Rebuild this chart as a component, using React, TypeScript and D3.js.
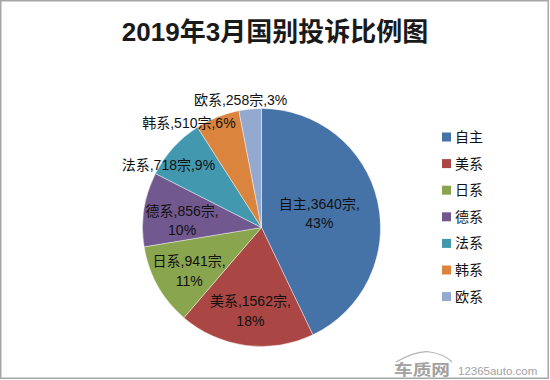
import React from "react";
import * as d3 from "d3";

const categories = ["自主", "美系", "日系", "德系", "法系", "韩系", "欧系"];
const counts = [3640, 1562, 941, 856, 718, 510, 258];
const percents = [43, 18, 11, 10, 9, 6, 3];
const colors = ["#4572A7", "#AA4643", "#89A54E", "#71588F", "#4198AF", "#DB843D", "#93A9CF"];
const twoLine = [true, true, true, true, false, false, false];
const labelRadius = [0.5, 0.71, 0.71, 0.67, 0.94, 1.07, 1.09];
const labelNudgeDeg = [-0.8, 0, -1.8, -3.8, -8.5, -13, -3.8];
const title = "2019年3月国别投诉比例图";

const W = 550, H = 380;
const cx = 261.5, cy = 227.5, R = 119;
const FONT = "'Liberation Sans', 'Noto Sans CJK SC', sans-serif";

export default function App() {
  const data = categories.map((c, i) => ({ name: c, value: counts[i], i }));
  const pie = d3.pie<any>().value((d) => d.value).sort(null);
  const arcs = pie(data);
  const arc = d3.arc<any>().innerRadius(0).outerRadius(R);

  const legendY = d3.scaleLinear().domain([0, 6]).range([137, 296.6]);

  // watermark car outline
  const car = d3.path();
  car.moveTo(396, 362);
  car.quadraticCurveTo(418, 350, 430, 352);
  car.quadraticCurveTo(444, 354, 452, 362);

  return (
    <svg width={W} height={H} style={{ position: "absolute", left: 0, top: 0 }} fontFamily={FONT}>
      <rect x={0} y={0} width={W} height={H} fill="#fff" />
      <rect x={0.75} y={0.75} width={547.5} height={377.5} fill="none" stroke="#a6a6a6" strokeWidth={1.5} />
      <text x={275} y={41} textAnchor="middle" fontSize={26} fontWeight="bold" fill="#1a1a1a">
        {title}
      </text>
      <g transform={`translate(${cx},${cy})`}>
        {arcs.map((a, i) => (
          <path key={i} d={arc(a) || ""} fill={colors[i]} stroke="#ffffff" strokeOpacity={0.6} strokeWidth={0.7} />
        ))}
        {arcs.map((a, i) => {
          const mid = (a.startAngle + a.endAngle) / 2 + (labelNudgeDeg[i] * Math.PI) / 180;
          const r = labelRadius[i] * R;
          const x = r * Math.sin(mid);
          const y = -r * Math.cos(mid);
          const line1 = `${categories[i]},${counts[i]}宗,`;
          const pct = `${percents[i]}%`;
          return twoLine[i] ? (
            <text key={i} x={x} y={y} textAnchor="middle" fontSize={14} fill="#111">
              <tspan x={x} dy={-10} dominantBaseline="central">{line1}</tspan>
              <tspan x={x} dy={19.5} dominantBaseline="central">{pct}</tspan>
            </text>
          ) : (
            <text key={i} x={x} y={y} textAnchor="middle" dominantBaseline="central" fontSize={14} fill="#111">
              {line1 + pct}
            </text>
          );
        })}
      </g>
      <g>
        {categories.map((c, i) => (
          <g key={i} transform={`translate(442,${legendY(i)})`}>
            <rect x={0} y={-4.5} width={9} height={9} fill={colors[i]} />
            <text x={13} y={0} dominantBaseline="central" fontSize={14} fill="#111">{c}</text>
          </g>
        ))}
      </g>
      <g opacity={0.8}>
        <path d={car.toString()} fill="none" stroke="#a0a0a0" strokeWidth={1.2} />
        <text x={394} y={375} fontSize={15} fontWeight="bold" fill="#8a8a8a" textLength={56} lengthAdjust="spacingAndGlyphs">车质网</text>
        <text x={458} y={375} fontSize={11.5} fill="#8a8a8a" fontFamily="'Liberation Sans', sans-serif">12365auto.com</text>
      </g>
    </svg>
  );
}
